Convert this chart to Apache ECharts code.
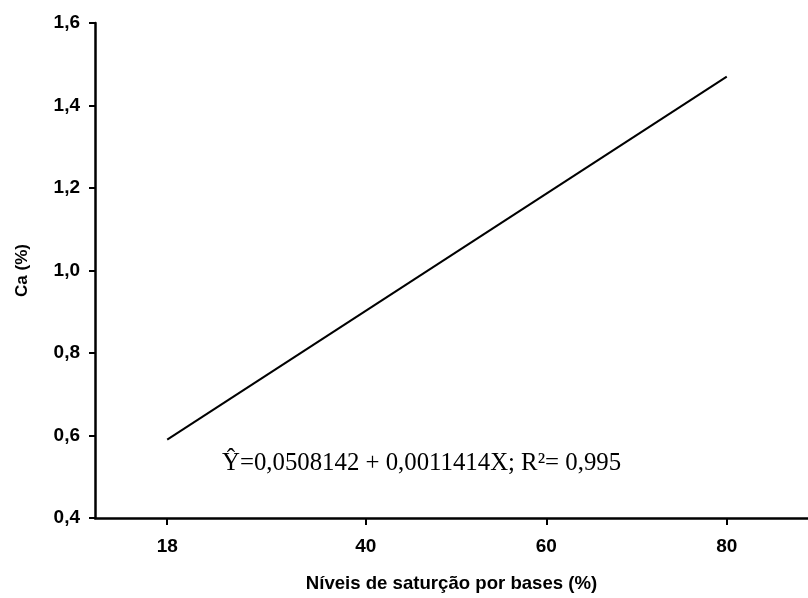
<!DOCTYPE html>
<html>
<head>
<meta charset="utf-8">
<script src="https://cdn.jsdelivr.net/npm/echarts@6/dist/echarts.min.js"></script>
<style>
html,body{margin:0;padding:0;background:#fff;}
#chart{width:808px;height:598px;}
</style>
</head>
<body>
<div id="chart"></div>
<script>
// Data
const xTickValues = [18, 40, 60, 80];
const lineX = [18, 80];
const lineY = [0.59, 1.47];
const xAxisTitle = 'Níveis de saturção por bases (%)';
const yAxisTitle = 'Ca (%)';
const equationText = 'Ŷ=0,0508142 + 0,0011414X; R²= 0,995';

const chart = echarts.init(document.getElementById('chart'), null, {renderer: 'canvas'});
const fmt = v => v.toFixed(1).replace('.', ',');
const option = {
  backgroundColor: '#fff',
  animation: false,
  grid: {left: 95, right: 0, top: 23, bottom: 80, containLabel: false},
  xAxis: {
    type: 'value', min: 10, max: 89,
    name: xAxisTitle, nameLocation: 'middle', nameGap: 56,
    nameTextStyle: {fontFamily: 'Liberation Sans', fontWeight: 'bold', fontSize: 18.6, color: '#000'},
    axisLine: {show: true, lineStyle: {color: '#000', width: 2.5}},
    axisTick: {show: true, inside: false, length: 7, customValues: xTickValues, lineStyle: {color: '#000', width: 2}},
    axisLabel: {show: true, margin: 19, customValues: xTickValues, fontFamily: 'Liberation Sans', fontWeight: 'bold', fontSize: 19, color: '#000'},
    splitLine: {show: false}
  },
  yAxis: {
    type: 'value', min: 0.4, max: 1.6, interval: 0.2,
    name: yAxisTitle, nameLocation: 'middle', nameGap: 64, nameRotate: 90,
    nameTextStyle: {fontFamily: 'Liberation Sans', fontWeight: 'bold', fontSize: 17, color: '#000'},
    axisLine: {show: true, lineStyle: {color: '#000', width: 2.5}},
    axisTick: {show: true, inside: false, length: 6, lineStyle: {color: '#000', width: 2}},
    axisLabel: {show: true, margin: 15, formatter: fmt, fontFamily: 'Liberation Sans', fontWeight: 'bold', fontSize: 19, color: '#000'},
    splitLine: {show: false}
  },
  series: [{
    type: 'line',
    data: lineX.map((x, i) => [x, lineY[i]]),
    symbol: 'none',
    lineStyle: {color: '#000', width: 2},
    silent: true
  }],
  graphic: [{
    type: 'text',
    left: 222, top: 451,
    style: {text: equationText, fontFamily: 'Liberation Serif', fontSize: 24.8, fill: '#000'}
  }]
};
chart.setOption(option);
</script>
</body>
</html>
